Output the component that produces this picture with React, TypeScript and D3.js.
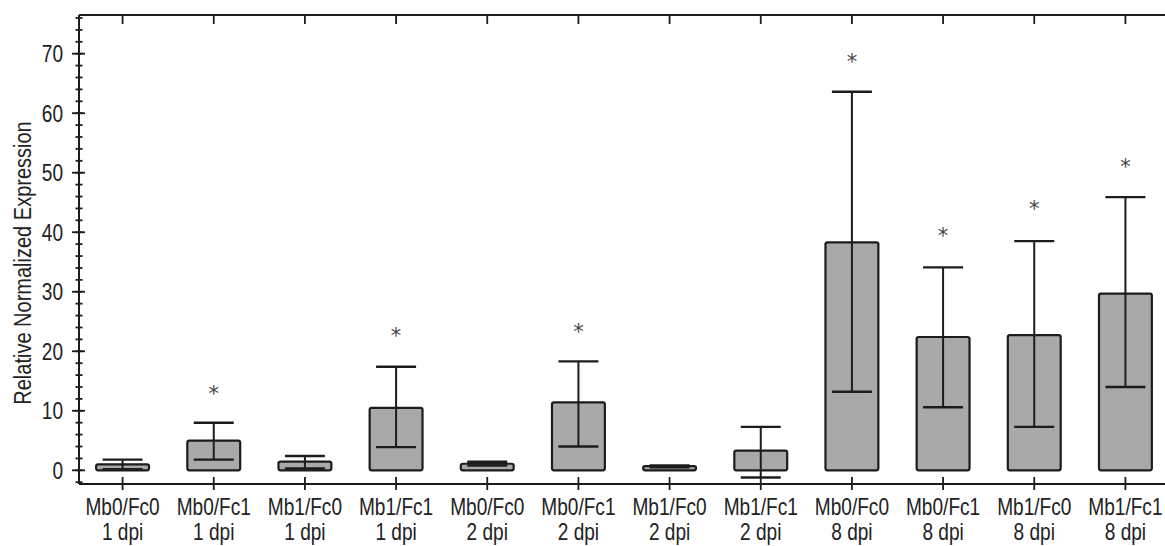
import React from "react";
import * as d3 from "d3";

const groups = ["Mb0/Fc0", "Mb0/Fc1", "Mb1/Fc0", "Mb1/Fc1", "Mb0/Fc0", "Mb0/Fc1", "Mb1/Fc0", "Mb1/Fc1", "Mb0/Fc0", "Mb0/Fc1", "Mb1/Fc0", "Mb1/Fc1"];
const timepoints = ["1 dpi", "1 dpi", "1 dpi", "1 dpi", "2 dpi", "2 dpi", "2 dpi", "2 dpi", "8 dpi", "8 dpi", "8 dpi", "8 dpi"];
const means = [1.0, 5.0, 1.45, 10.5, 1.1, 11.4, 0.7, 3.3, 38.3, 22.4, 22.7, 29.7];
const upper = [1.8, 8.0, 2.4, 17.4, 1.45, 18.3, 0.8, 7.3, 63.6, 34.1, 38.5, 45.9];
const lower = [0.2, 1.8, 0.3, 3.9, 0.8, 4.0, 0.5, -1.2, 13.2, 10.6, 7.3, 14.0];
const significant = [false, true, false, true, false, true, false, false, true, true, true, true];
const starLevel = [0, 13.4, 0, 23.0, 0, 23.7, 0, 0, 69.1, 39.8, 44.4, 51.4];
const majorTicks = [0, 10, 20, 30, 40, 50, 60, 70];
const yLabel = "Relative Normalized Expression";

const W = 1165;
const H = 546;
const FONT = "'Liberation Sans', Arial, sans-serif";
const SX = 0.83;

function NarrowText({ x, y, children, anchor = "middle", size = 23, rotate = 0, sx = SX }: any) {
  return (
    <g transform={`translate(${x},${y}) rotate(${rotate}) scale(${sx},1)`}>
      <text x={0} y={0} textAnchor={anchor} fontFamily={FONT} fontSize={size} fill="#222">{children}</text>
    </g>
  );
}

export default function App() {
  const ids = groups.map((g, i) => `${g}|${timepoints[i]}|${i}`);
  const x = d3.scaleBand<string>().domain(ids).range([77, 1171]).padding(0);
  const y = d3.scaleLinear().domain([-2.3, 76.5]).range([484, 15]);
  const step = x.step();
  const barW = step * 0.58;
  const capW = 40;
  const axisLeft = 79;
  const minorTicks = d3.range(-2, 77, 2);
  const ink = "#1c1c1c";

  return (
    <svg width={W} height={H} style={{ display: "block", position: "absolute", left: 0, top: 0, background: "#fff" }}>
      {ids.map((id, i) => {
        const cx = (x(id) as number) + step / 2;
        const y0 = y(0);
        const yt = y(means[i]);
        return (
          <g key={id}>
            <rect x={cx - barW / 2} y={Math.min(yt, y0)} width={barW} height={Math.max(Math.abs(y0 - yt), 1)}
              fill="#a9a9a9" stroke={ink} strokeWidth={2.2} rx={2} />
            <line x1={cx} x2={cx} y1={y(lower[i])} y2={y(upper[i])} stroke={ink} strokeWidth={2} />
            <line x1={cx - capW / 2} x2={cx + capW / 2} y1={y(upper[i])} y2={y(upper[i])} stroke={ink} strokeWidth={2.4} />
            <line x1={cx - capW / 2} x2={cx + capW / 2} y1={y(lower[i])} y2={y(lower[i])} stroke={ink} strokeWidth={2.4} />
            {significant[i] && (
              <text x={cx} y={y(starLevel[i]) + 10} textAnchor="middle" fontFamily="'DejaVu Sans', sans-serif" fontSize={21} fill="#444">*</text>
            )}
          </g>
        );
      })}

      <line x1={axisLeft} x2={W} y1={y(76.5)} y2={y(76.5)} stroke={ink} strokeWidth={2} />
      <line x1={axisLeft} x2={W} y1={y(-2.3)} y2={y(-2.3)} stroke={ink} strokeWidth={2} />
      <line x1={axisLeft} x2={axisLeft} y1={y(76.5)} y2={y(-2.3)} stroke={ink} strokeWidth={2} />

      {minorTicks.map((t) => (
        <line key={"m" + t} x1={axisLeft - 3.5} x2={axisLeft + 3.5} y1={y(t)} y2={y(t)} stroke={ink} strokeWidth={1.8} />
      ))}
      {majorTicks.map((t) => (
        <g key={"M" + t}>
          <line x1={axisLeft - 7} x2={axisLeft + 6} y1={y(t)} y2={y(t)} stroke={ink} strokeWidth={1.8} />
          <NarrowText x={63} y={y(t) + 8.5} anchor="end">{t}</NarrowText>
        </g>
      ))}

      {ids.map((id, i) => {
        const cx = (x(id) as number) + step / 2;
        return (
          <g key={"xt" + id}>
            <line x1={cx} x2={cx} y1={y(76.5)} y2={y(76.5) + 9} stroke={ink} strokeWidth={1.8} />
            <line x1={cx} x2={cx} y1={y(-2.3) - 7} y2={y(-2.3) + 6} stroke={ink} strokeWidth={1.8} />
            <NarrowText x={cx} y={515}>{groups[i]}</NarrowText>
            <NarrowText x={cx} y={540}>{timepoints[i]}</NarrowText>
          </g>
        );
      })}

      <NarrowText x={31} y={263} rotate={-90} sx={0.87}>{yLabel}</NarrowText>
    </svg>
  );
}
